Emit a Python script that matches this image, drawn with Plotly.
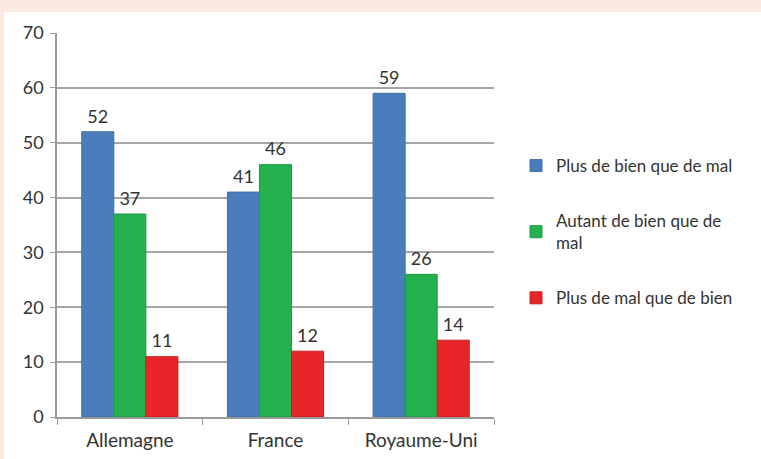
import plotly.graph_objects as go

categories = ["Allemagne", "France", "Royaume-Uni"]
series_names = ["Plus de bien que de mal", "Autant de bien que de<br>mal", "Plus de mal que de bien"]
plus_bien = [52, 41, 59]
autant = [37, 46, 26]
plus_mal = [11, 12, 14]
y_ticks = [0, 10, 20, 30, 40, 50, 60, 70]

colors = ["#4a7ebb", "#23b04d", "#e8262a"]
lines = ["#3f6fa8", "#1d9a42", "#c81f23"]
font_family = "Lato, 'Open Sans', sans-serif"
txt_color = "#333333"

fig = go.Figure()
for i, (name, vals) in enumerate(zip(series_names, [plus_bien, autant, plus_mal])):
    fig.add_trace(go.Bar(
        x=categories, y=vals, name=name,
        marker=dict(color=colors[i], line=dict(color=lines[i], width=1)),
        text=[f"<span style='font-size:18px'>{v}</span><br> " for v in vals],
        textposition="outside",
        textfont=dict(size=4, color=txt_color, family=font_family),
        cliponaxis=False, legendgroup=f"g{i}",
    ))

L, R, T, B = 57, 267, 33, 42
W, H = 761, 459
pw, ph = W - L - R, H - T - B

def px_x(x):
    return (x - L) / pw

def px_y(y):
    return (H - B - y) / ph

fig.add_shape(type="rect", xref="paper", yref="paper",
              x0=px_x(4), x1=px_x(W + 20), y0=px_y(H + 20), y1=px_y(12),
              fillcolor="white", line=dict(width=0), layer="below")

fig.update_layout(
    width=W, height=H,
    margin=dict(l=L, r=R, t=T, b=B, pad=0),
    paper_bgcolor="#fce9df",
    plot_bgcolor="rgba(0,0,0,0)",
    barmode="group", bargap=0.34, bargroupgap=0,
    uniformtext=dict(mode=False),
    font=dict(family=font_family, size=18, color=txt_color),
    showlegend=True,
    legend=dict(x=px_x(516), y=px_y(148), xanchor="left", yanchor="top",
                font=dict(size=17, color=txt_color, family=font_family),
                tracegroupgap=30, bgcolor="rgba(0,0,0,0)",
                itemwidth=30),
    xaxis=dict(showline=True, linecolor="#9a9a9a", linewidth=1.5, automargin=False,
               ticks="outside", tickson="boundaries", ticklen=6, tickcolor="#9a9a9a",
               ticklabelstandoff=5,
               tickfont=dict(size=19, color=txt_color), showgrid=False),
    yaxis=dict(range=[0, 70], tickvals=y_ticks, showline=True, linecolor="#9a9a9a", linewidth=1.5,
               automargin=False,
               ticks="outside", ticklen=5, tickcolor="#9a9a9a", ticklabelstandoff=3,
               gridcolor="#a6a6a6", gridwidth=1.5, zeroline=False,
               tickfont=dict(size=18, color=txt_color)),
)

fig.write_html("out.html", config={"displayModeBar": False},
               post_script="document.body.style.margin='0';")
